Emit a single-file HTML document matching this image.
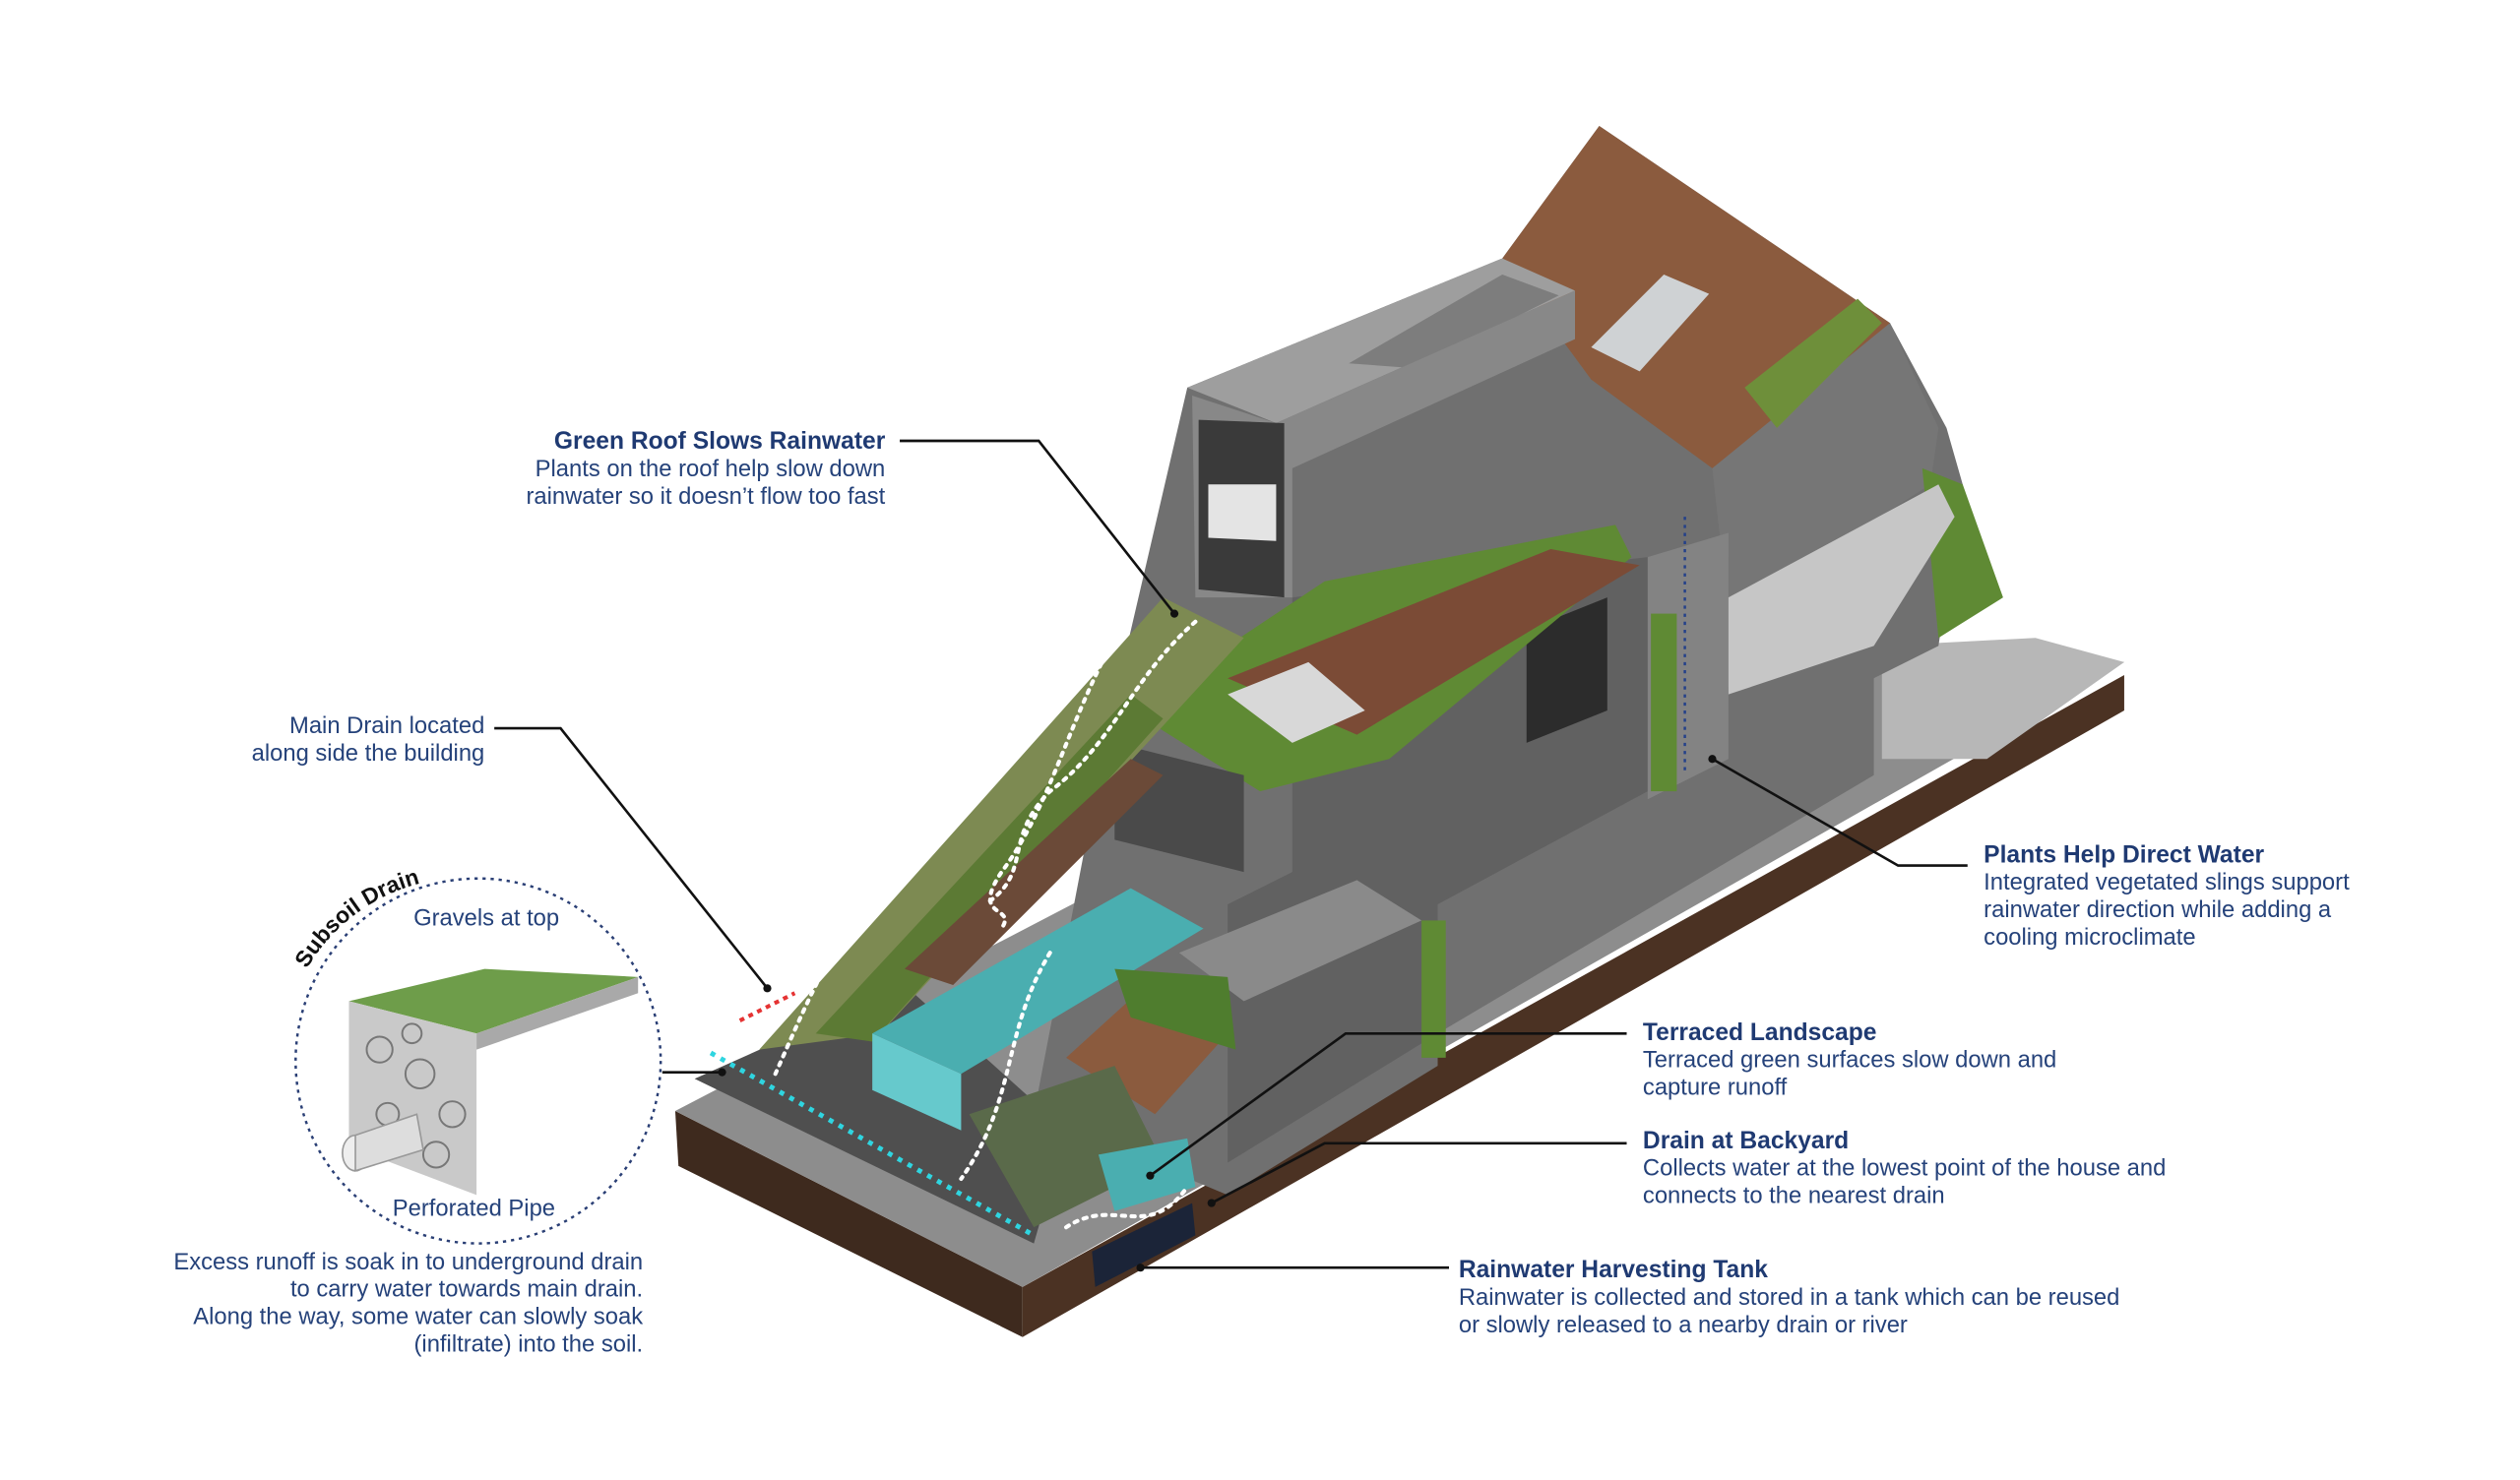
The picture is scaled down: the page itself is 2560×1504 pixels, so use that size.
<!DOCTYPE html>
<html><head><meta charset="utf-8"><style>
html,body{margin:0;padding:0;background:#fff;}
svg{display:block;}
text{font-family:"Liberation Sans",sans-serif;fill:#25427a;}
.b{font-weight:bold;fill:#1f3a72;}
</style></head><body>
<svg width="2560" height="1504" viewBox="0 0 1560 916.5" preserveAspectRatio="none" xmlns="http://www.w3.org/2000/svg">
<rect width="1560" height="916.5" fill="#fff"/>
<polygon points="418,688 633,797 633,828 420,722" fill="#3e2a1e"/>
<polygon points="633,797 1315,418 1315,440 633,828" fill="#4b3223"/>
<polygon points="418,688 990,390 1315,410 633,797" fill="#8d8d8d"/>
<polygon points="1165,400 1260,395 1315,410 1230,470 1165,470" fill="#b7b7b7"/>
<polygon points="430,668 560,610 660,700 640,770" fill="#4f4f4f"/>
<polygon points="685,455 735,240 930,160 990,78 1170,200 1205,265 1215,300 1200,400 1160,420 1160,480 890,640 890,660 760,740 640,690" fill="#707070"/>
<polygon points="930,160 990,78 1170,200 1140,230 1060,290 985,235" fill="#8b5b3e"/>
<polygon points="985,215 1030,170 1058,182 1015,230" fill="#cfd2d4"/>
<polygon points="1060,290 1170,200 1200,265 1195,300 1070,380" fill="#767676"/>
<polygon points="1080,240 1150,185 1165,200 1100,265" fill="#6e8f3a"/>
<polygon points="1190,290 1215,300 1240,370 1200,395" fill="#5f8a34"/>
<polygon points="735,240 930,160 975,180 790,262" fill="#9e9e9e"/>
<polygon points="835,225 930,170 965,183 875,228" fill="#7d7d7d"/>
<polygon points="790,262 975,180 975,210 800,290 800,370 740,370 738,245" fill="#888"/>
<polygon points="742,260 795,262 795,370 742,365" fill="#3a3a3a"/>
<polygon points="748,300 790,300 790,335 748,333" fill="#e4e4e4"/>
<polygon points="800,370 1020,345 1020,490 890,560 890,640 760,720 760,560 800,540" fill="#616161"/>
<polygon points="1020,345 1070,330 1070,470 1020,495" fill="#838383"/>
<polygon points="1070,370 1200,300 1210,320 1160,400 1070,430" fill="#c6c6c6"/>
<polygon points="945,390 995,370 995,440 945,460" fill="#2c2c2c"/>
<polygon points="700,440 820,360 1000,325 1010,345 860,470 780,490" fill="#5f8a34"/>
<polygon points="760,420 960,340 1015,350 840,455" fill="#7b4b36"/>
<polygon points="760,430 810,410 845,440 800,460" fill="#d8d8d8"/>
<polygon points="690,460 770,480 770,540 690,520" fill="#4a4a4a"/>
<polygon points="470,650 720,370 770,395 545,640" fill="#7d8a52"/>
<polygon points="505,640 700,430 720,445 540,645" fill="#5c7a34"/>
<polygon points="560,600 700,470 720,480 590,610" fill="#6b4a38"/>
<polygon points="540,640 700,550 745,575 595,665" fill="#4aaeb0"/>
<polygon points="540,640 595,665 595,700 540,675" fill="#66c9cc"/>
<polygon points="730,590 840,545 880,570 770,620" fill="#8a8a8a"/>
<polygon points="660,655 715,605 760,640 715,690" fill="#8b5b3e"/>
<polygon points="690,600 760,605 765,650 700,630" fill="#4f7d2e"/>
<polygon points="600,690 690,660 720,720 640,760" fill="#5a6a4a"/>
<polygon points="680,715 735,705 740,735 690,750" fill="#4aaeb0"/>
<polygon points="676,775 738,745 740,765 678,797" fill="#1b2438"/>
<rect x="1022" y="380" width="16" height="110" fill="#5f8a34"/>
<rect x="880" y="570" width="15" height="85" fill="#5f8a34"/>
<g fill="none" stroke="#fff" stroke-width="2.5" stroke-dasharray="2 4" stroke-linecap="round">
<path d="M740,385 C700,420 690,460 650,490 C620,520 640,540 610,560"/>
<path d="M690,395 C660,450 650,500 620,540 C600,570 630,560 620,575"/>
<path d="M560,530 C520,570 500,620 480,665"/>
<path d="M650,590 C620,640 630,680 595,730"/>
<path d="M660,760 C690,740 710,770 735,735"/>
</g>
<path d="M1043,320 L1043,480" stroke="#23408a" stroke-width="1.5" stroke-dasharray="2 3"/>
<path d="M440,652 L640,765" stroke="#2fd5e0" stroke-width="3" stroke-dasharray="3 4"/>
<path d="M458,632 L492,615" stroke="#e53333" stroke-width="2.5" stroke-dasharray="3 3"/>
<g stroke="#111" stroke-width="1.6" fill="none">
<polyline points="557,273 643,273 727,380"/>
<polyline points="306,451 347,451 475,612"/>
<polyline points="1060,470 1175,536 1218,536"/>
<polyline points="712,728 833,640 1007,640"/>
<polyline points="750,745 820,708 1007,708"/>
<polyline points="706,785 897,785"/>
<polyline points="410,664 447,664"/>
</g>
<g fill="#111"><circle cx="727" cy="380" r="2.5"/><circle cx="475" cy="612" r="2.5"/><circle cx="1060" cy="470" r="2.5"/><circle cx="712" cy="728" r="2.5"/><circle cx="750" cy="745" r="2.5"/><circle cx="706" cy="785" r="2.5"/><circle cx="447" cy="664" r="2.5"/></g>
<circle cx="296" cy="657" r="113" fill="#fff" stroke="#2a3f75" stroke-width="1.5" stroke-dasharray="2 3"/>
<polygon points="216,620 300,600 395,605 295,640" fill="#6e9d4a"/>
<polygon points="216,620 295,640 295,740 216,710" fill="#c9c9c9"/>
<polygon points="295,640 395,605 395,615 295,650" fill="#a9a9a9"/>
<g fill="none" stroke="#777" stroke-width="1.2">
<circle cx="235" cy="650" r="8"/><circle cx="260" cy="665" r="9"/><circle cx="280" cy="690" r="8"/><circle cx="240" cy="690" r="7"/><circle cx="270" cy="715" r="8"/><circle cx="255" cy="640" r="6"/></g>
<ellipse cx="220" cy="714" rx="8" ry="11" fill="#eee" stroke="#999"/>
<polygon points="220,703 258,690 262,712 220,725" fill="#ddd" stroke="#999"/>
<path id="arc" d="M190,600 A113,113 0 0 1 270,545" fill="none"/>
<text style="fill:#111;font-weight:bold;font-size:14px"><textPath href="#arc">Subsoil Drain</textPath></text>
<text x="256" y="573" font-size="14.5">Gravels at top</text>
<text x="243" y="753" font-size="14.5">Perforated Pipe</text>
<g font-size="14.5">
<text class="b" x="548" y="278" text-anchor="end" font-size="15">Green Roof Slows Rainwater</text>
<text x="548" y="295" text-anchor="end">Plants on the roof help slow down</text>
<text x="548" y="312" text-anchor="end">rainwater so it doesn’t flow too fast</text>
<text x="300" y="454" text-anchor="end">Main Drain located</text>
<text x="300" y="471" text-anchor="end">along side the building</text>
<text x="398" y="786" text-anchor="end">Excess runoff is soak in to underground drain</text>
<text x="398" y="803" text-anchor="end">to carry water towards main drain.</text>
<text x="398" y="820" text-anchor="end">Along the way, some water can slowly soak</text>
<text x="398" y="837" text-anchor="end">(infiltrate) into the soil.</text>
<text class="b" x="1228" y="534" font-size="15">Plants Help Direct Water</text>
<text x="1228" y="551">Integrated vegetated slings support</text>
<text x="1228" y="568">rainwater direction while adding a</text>
<text x="1228" y="585">cooling microclimate</text>
<text class="b" x="1017" y="644" font-size="15">Terraced Landscape</text>
<text x="1017" y="661">Terraced green surfaces slow down and</text>
<text x="1017" y="678">capture runoff</text>
<text class="b" x="1017" y="711" font-size="15">Drain at Backyard</text>
<text x="1017" y="728">Collects water at the lowest point of the house and</text>
<text x="1017" y="745">connects to the nearest drain</text>
<text class="b" x="903" y="791" font-size="15">Rainwater Harvesting Tank</text>
<text x="903" y="808">Rainwater is collected and stored in a tank which can be reused</text>
<text x="903" y="825">or slowly released to a nearby drain or river</text>
</g>
</svg>
</body></html>
